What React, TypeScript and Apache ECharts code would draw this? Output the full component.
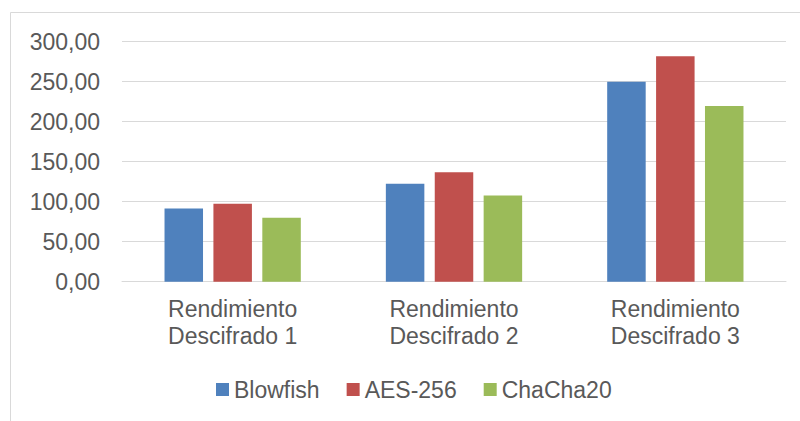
import React, { useEffect, useRef } from "react";
import * as echarts from "echarts";

// Decryption throughput per cipher
const categories = [
  "Rendimiento\nDescifrado 1",
  "Rendimiento\nDescifrado 2",
  "Rendimiento\nDescifrado 3",
];
const blowfish = [91.5, 122.5, 250.0];
const aes256 = [97.5, 136.7, 281.7];
const chacha20 = [80.0, 107.9, 219.6];
const seriesNames = ["Blowfish", "AES-256", "ChaCha20"];
const yMin = 0;
const yMax = 300;
const yStep = 50;

const FONT = "'Liberation Sans', Arial, sans-serif";
const TEXT = "#595959";
const GRID = "#d9d9d9";
const COLORS = ["#4F81BD", "#C0504D", "#9BBB59"];

const formatComma = (v: number) => v.toFixed(2).replace(".", ",");

export default function App() {
  const ref = useRef<HTMLDivElement>(null);

  useEffect(() => {
    if (!ref.current) return;
    const chart = echarts.init(ref.current, undefined, { renderer: "svg" });
    const values = [blowfish, aes256, chacha20];
    chart.setOption({
      animation: false,
      backgroundColor: "#ffffff",
      graphic: [
        {
          type: "rect",
          shape: { x: 10.5, y: 12.5, width: 800, height: 420 },
          style: { fill: "none", stroke: GRID, lineWidth: 1 },
          silent: true,
        },
      ],
      grid: { left: 122, right: 14, top: 41.7, bottom: 139.3, containLabel: false },
      legend: {
        data: seriesNames,
        left: 216,
        top: 378,
        itemWidth: 13,
        itemHeight: 13,
        itemGap: 27,
        icon: "rect",
        textStyle: { fontFamily: FONT, fontSize: 23, color: TEXT, padding: [0, 0, 0, 0] },
        padding: 0,
      },
      xAxis: {
        type: "category",
        data: categories,
        axisLine: { show: true, lineStyle: { color: GRID, width: 1 } },
        axisTick: { show: false },
        axisLabel: {
          fontFamily: FONT,
          fontSize: 23,
          color: TEXT,
          margin: 14,
          lineHeight: 27,
          interval: 0,
        },
      },
      yAxis: {
        type: "value",
        min: yMin,
        max: yMax,
        interval: yStep,
        axisLine: { show: false },
        axisTick: { show: false },
        splitLine: { lineStyle: { color: GRID, width: 1 } },
        axisLabel: {
          fontFamily: FONT,
          fontSize: 23,
          color: TEXT,
          margin: 22,
          formatter: (v: number) => formatComma(v),
        },
      },
      series: seriesNames.map((name, i) => ({
        name,
        type: "bar",
        data: values[i],
        barWidth: 38.5,
        barGap: "27%",
        itemStyle: { color: COLORS[i] },
      })),
    });
    return () => chart.dispose();
  }, []);

  return (
    <div
      ref={ref}
      style={{ position: "fixed", left: 0, top: 0, width: 800, height: 421 }}
    />
  );
}
